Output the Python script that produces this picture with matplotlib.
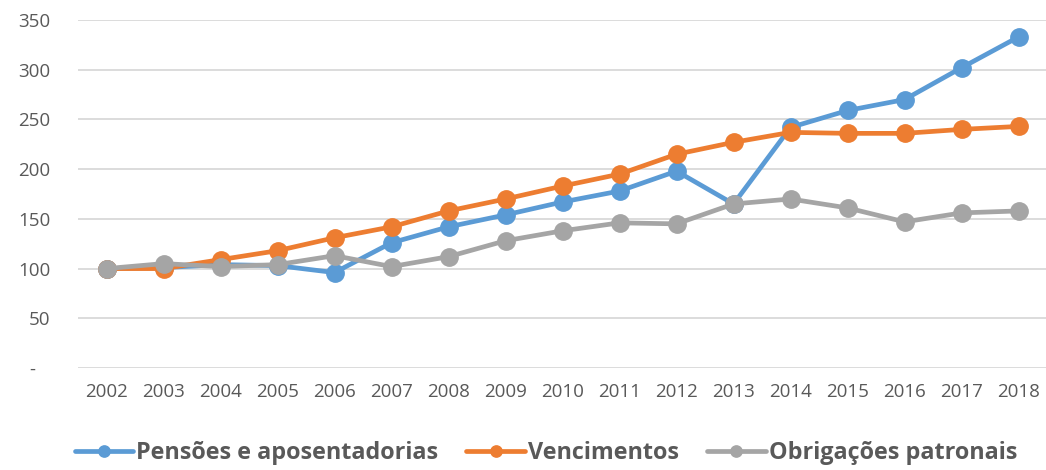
import matplotlib.pyplot as plt

anos = list(range(2002, 2019))
pensoes = [100, 101, 104, 103, 96, 126, 142, 154, 167, 178, 198, 165, 242, 259, 270, 302, 333]
vencimentos = [100, 100, 109, 118, 131, 142, 158, 170, 183, 195, 215, 227, 237, 236, 236, 240, 243]
obrigacoes = [100, 105, 102, 104, 113, 102, 112, 128, 138, 146, 145, 165, 170, 161, 147, 156, 158]

series = [
    ('Pensões e aposentadorias', pensoes, '#5B9BD5'),
    ('Vencimentos', vencimentos, '#ED7D31'),
    ('Obrigações patronais', obrigacoes, '#A5A5A5'),
]

plt.rcParams['font.family'] = ['Open Sans', 'DejaVu Sans']

fig = plt.figure(figsize=(10.46, 4.70), dpi=100)
ax = fig.add_axes([0.0746, 0.217, 0.9264, 0.7404])

x = list(range(len(anos)))
for nome, vals, cor in series:
    ax.plot(x, vals, color=cor, lw=3.4, marker='o', ms=12.5, label=nome,
            solid_capstyle='round')

ax.set_xlim(-0.5, len(anos) - 0.5)
ax.set_ylim(0, 350)
ax.set_yticks(range(0, 351, 50))
ax.set_yticklabels(['-   '] + [str(v) for v in range(50, 351, 50)])
ax.set_xticks(x)
ax.set_xticklabels([str(a) for a in anos])
ax.grid(axis='y', color='#D9D9D9', lw=1.3)
ax.set_axisbelow(True)
for s in ax.spines.values():
    s.set_visible(False)
ax.tick_params(length=0, labelsize=13.5, colors='#595959')
ax.tick_params(axis='x', pad=11)
ax.tick_params(axis='y', pad=20)

leg = fig.legend(loc='center', bbox_to_anchor=(0.522, 0.036), ncol=3,
                 frameon=False, handlelength=2.5, handletextpad=0.15,
                 columnspacing=1.2, markerscale=0.65,
                 prop={'weight': 'bold', 'size': 16.8})
for t in leg.get_texts():
    t.set_color('#595959')

fig.savefig('out.png', dpi=100)
